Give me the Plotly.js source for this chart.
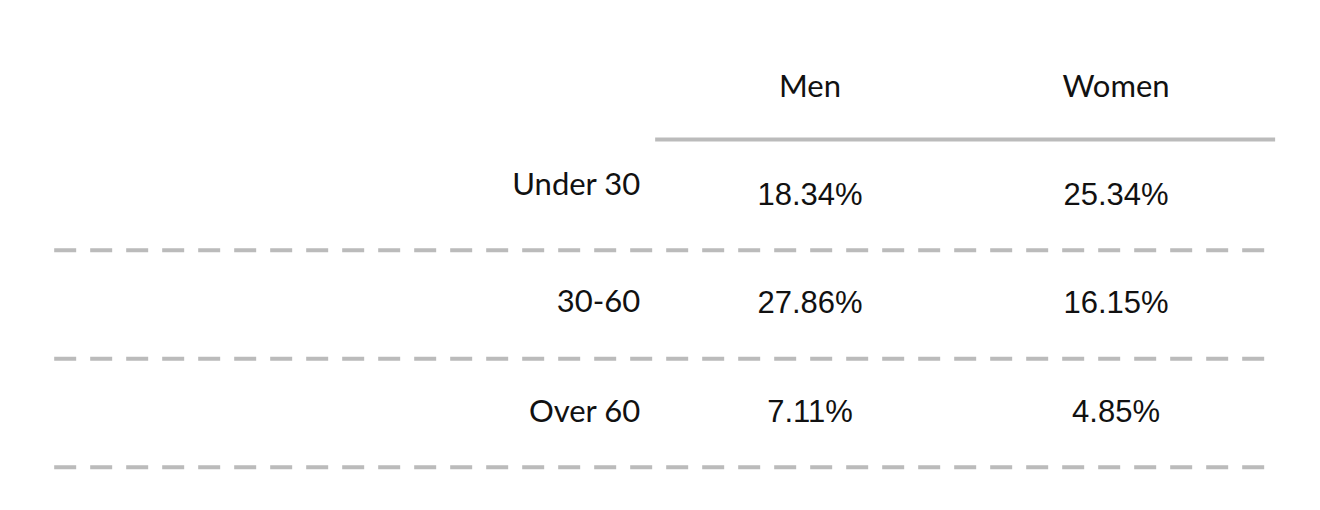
<!DOCTYPE html>
<html>
<head>
<meta charset="utf-8">
<script src="https://cdn.plot.ly/plotly-3.0.1.min.js"></script>
<style>body{margin:0;background:#fff}#chart{width:1320px;height:510px}</style>
</head>
<body>
<div id="chart"></div>
<script>
// Table data
const columns = ['Men', 'Women'];
const rows = ['Under 30', '30-60', 'Over 60'];
const men = ['18.34%', '27.86%', '7.11%'];
const women = ['25.34%', '16.15%', '4.85%'];

// column index 1,2 ; row index 0..n-1 (header at -1)
const colX = columns.map((c, i) => i + 1);
const rowY = rows.map((r, i) => i);
const labelX = rows.map(() => 0.445);
// the first row label sits a bit higher than its values in the original
const labelShift = [-0.09, -0.01, 0];

const grey = '#bbbbbb';
const traces = [];

// header
traces.push({
  x: colX, y: columns.map(() => -0.99), text: columns, mode: 'text', type: 'scatter',
  textfont: { family: 'Lato, sans-serif', size: 31, color: '#111' }, hoverinfo: 'none'
});
// row labels
traces.push({
  x: labelX, y: rowY.map((y, i) => y + labelShift[i]), text: rows, mode: 'text', type: 'scatter',
  textposition: 'middle left',
  textfont: { family: 'Lato, sans-serif', size: 31, color: '#111' }, hoverinfo: 'none'
});
// values
[men, women].forEach((vals, c) => {
  traces.push({
    x: rowY.map(() => colX[c]), y: rowY, text: vals, mode: 'text', type: 'scatter',
    textfont: { family: 'Liberation Sans, Arial, sans-serif', size: 31, color: '#111' }, hoverinfo: 'none'
  });
});
// header rule
traces.push({
  x: [0.494, 2.52], y: [-0.53, -0.53], mode: 'lines', type: 'scatter',
  line: { color: grey, width: 4 }, hoverinfo: 'none'
});
// dashed row separators
rowY.forEach((y) => {
  traces.push({
    x: [-1.47, 2.52], y: [y + 0.49, y + 0.49], mode: 'lines', type: 'scatter',
    line: { color: grey, width: 4, dash: '22px,14px' }, hoverinfo: 'none'
  });
});

const layout = {
  width: 1320, height: 510, showlegend: false,
  margin: { t: 0, b: 0, l: 0, r: 0, pad: 0 },
  paper_bgcolor: '#fff', plot_bgcolor: '#fff',
  xaxis: { range: [-504 / 306, 816 / 306], visible: false, fixedrange: true },
  yaxis: { range: [(510 - 197) / 108.5, -197 / 108.5], visible: false, fixedrange: true }
};

Plotly.newPlot('chart', traces, layout, { displayModeBar: false, staticPlot: true });
</script>
</body>
</html>
